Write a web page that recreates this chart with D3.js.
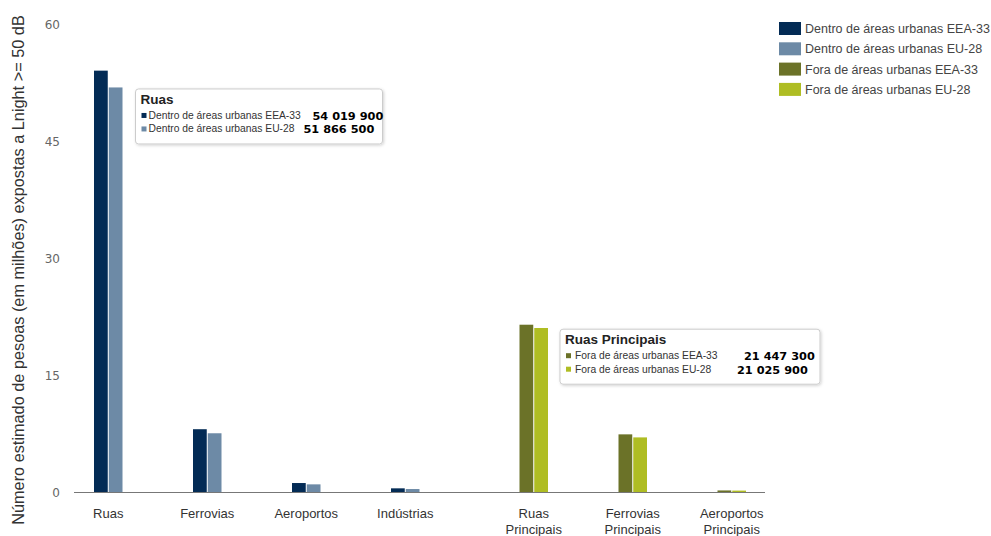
<!DOCTYPE html>
<html><head><meta charset="utf-8">
<script src="https://cdn.jsdelivr.net/npm/d3@7"></script>
<style>body{margin:0;background:#fff}svg{display:block}</style>
</head><body><svg id="c" width="991" height="536"></svg>
<script>
const categories = ["Ruas","Ferrovias","Aeroportos","Indústrias","Ruas Principais","Ferrovias Principais","Aeroportos Principais"];
const seriesNames = ["Dentro de áreas urbanas EEA-33","Dentro de áreas urbanas EU-28","Fora de áreas urbanas EEA-33","Fora de áreas urbanas EU-28"];
const seriesColors = ["#032b55","#6d8aa6","#6b7228","#afbd23"];
const dentroEEA = [54.0199, 8.05, 1.15, 0.47, null, null, null];
const dentroEU  = [51.8665, 7.53, 0.98, 0.38, null, null, null];
const foraEEA   = [null, null, null, null, 21.4473, 7.39, 0.20];
const foraEU    = [null, null, null, null, 21.0259, 7.00, 0.18];
const yTicks = [0,15,30,45,60];
const yTitle = "Número estimado de pesoas (em milhões) expostas a Lnight >= 50 dB";
const tooltips = [
  {cat:"Ruas", title:"Ruas", rows:[[0,"Dentro de áreas urbanas EEA-33","54 019 900"],[1,"Dentro de áreas urbanas EU-28","51 866 500"]]},
  {cat:"Ruas Principais", title:"Ruas Principais", rows:[[2,"Fora de áreas urbanas EEA-33","21 447 300"],[3,"Fora de áreas urbanas EU-28","21 025 900"]]}
];

const seriesValues = [dentroEEA, dentroEU, foraEEA, foraEU];
const svg = d3.select("#c");
const x = d3.scaleBand().domain(categories).range([74, 767]).padding(0);
const xi = d3.scaleBand().domain([0,1,2,3]).range([0, x.bandwidth()]).paddingInner(0).paddingOuter(1.356);
const y = d3.scaleLinear().domain([0,60]).range([492,24]);

// y ticks
svg.append("g").selectAll("text").data(yTicks).join("text")
  .attr("x", 60).attr("y", d => y(d) + 4.5).attr("text-anchor","end")
  .attr("font-family","DejaVu Sans").attr("font-size",12).attr("fill","#666")
  .text(d => d);

svg.append("text").attr("transform",`translate(24,${(y(0)+y(60))/2+12}) rotate(-90)`)
  .attr("text-anchor","middle").attr("font-family","Liberation Sans, Arial").attr("font-size",16.3).attr("fill","#333")
  .text(yTitle);

// bars
const barData = [];
seriesValues.forEach((arr,s) => arr.forEach((v,i) => { if (v!=null) barData.push({s, cat:categories[i], v}); }));
svg.append("g").selectAll("rect").data(barData).join("rect")
  .attr("x", d => x(d.cat) + xi(d.s))
  .attr("width", xi.bandwidth() - 1)
  .attr("y", d => y(d.v))
  .attr("height", d => y(0) - y(d.v))
  .attr("fill", d => seriesColors[d.s]);

// baseline
svg.append("line").attr("x1",74).attr("x2",765).attr("y1",y(0)+0.5).attr("y2",y(0)+0.5)
  .attr("stroke","#777").attr("stroke-width",1);

// category labels, centered under drawn bars
function barCenter(cat){
  const i = categories.indexOf(cat);
  const ss = seriesValues.map((a,s)=>a[i]!=null?s:null).filter(s=>s!=null);
  const lo = x(cat)+xi(ss[0]), hi = x(cat)+xi(ss[ss.length-1])+xi.bandwidth();
  return (lo+hi)/2 - 0.5;
}
const labG = svg.append("g").attr("font-family","Liberation Sans, Arial").attr("font-size",13).attr("fill","#333");
categories.forEach(c => {
  const words = c.split(" ");
  const t = labG.append("text").attr("x", barCenter(c)).attr("y", 518).attr("text-anchor","middle");
  words.forEach((w,k) => t.append("tspan").attr("x", barCenter(c)).attr("dy", k===0?0:16).text(w));
});

// legend
const lg = svg.append("g").attr("transform","translate(779,22)");
seriesNames.forEach((n,k) => {
  const g = lg.append("g").attr("transform",`translate(0,${k*20.3})`);
  g.append("rect").attr("width",22).attr("height",13).attr("fill",seriesColors[k]);
  g.append("text").attr("x",26).attr("y",11).attr("font-family","Liberation Sans, Arial").attr("font-size",12.5).attr("fill","#444").text(n);
});

// tooltips
const defs = svg.append("defs");
const f = defs.append("filter").attr("id","sh").attr("x","-10%").attr("y","-10%").attr("width","130%").attr("height","140%");
f.append("feDropShadow").attr("dx",1).attr("dy",1).attr("stdDeviation",1.5).attr("flood-color","#000").attr("flood-opacity",0.18);
const tipCfg = [
  {dx: 12, yv: 51.8, w: 247, h: 55, tx: 13, valX: [177, 168]},
  {dx: 11, yv: 21.0, w: 260, h: 55, tx: 15, valX: [184, 177]}
];
tooltips.forEach((tp,k) => {
  const cfg = tipCfg[k];
  const lastS = tp.rows[tp.rows.length-1][0];
  const left = x(tp.cat) + xi(lastS) + xi.bandwidth() + cfg.dx;
  const top = y(cfg.yv) + 1;
  const g = svg.append("g").attr("transform",`translate(${left},${top})`);
  g.append("rect").attr("width",cfg.w).attr("height",cfg.h).attr("rx",3)
    .attr("fill","#fff").attr("stroke","#ccc").attr("filter","url(#sh)");
  g.append("text").attr("x",5).attr("y",15).attr("font-family","Liberation Sans, Arial").attr("font-weight","bold")
    .attr("font-size",13.5).attr("fill","#222").text(tp.title);
  tp.rows.forEach((r,j) => {
    const yy = 30 + j*13.5;
    g.append("rect").attr("x",6).attr("y",yy-6).attr("width",5).attr("height",5).attr("fill",seriesColors[r[0]]);
    g.append("text").attr("x",cfg.tx).attr("y",yy).attr("font-family","Liberation Sans, Arial").attr("font-size",10.3).attr("fill","#333").text(r[1]);
    g.append("text").attr("x",cfg.valX[j]).attr("y",yy+1).attr("font-family","DejaVu Sans").attr("font-weight","bold")
      .attr("font-size",11.3).attr("fill","#000").text(r[2]);
  });
});
</script></body></html>
